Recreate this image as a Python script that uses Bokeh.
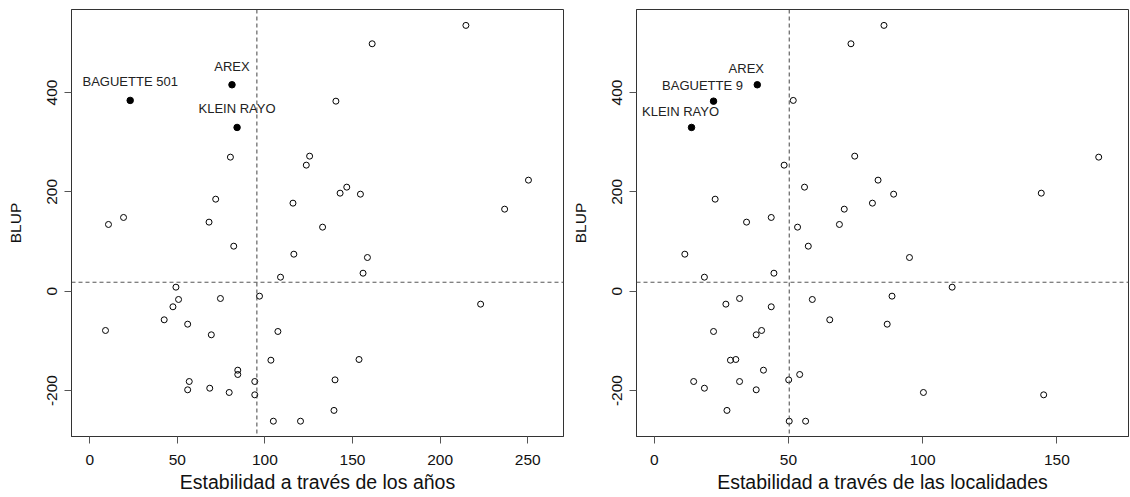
import math
from bokeh.plotting import figure
from bokeh.layouts import row
from bokeh.models import Range1d, Span, ColumnDataSource, FixedTicker
from bokeh.core.properties import value
from bokeh.embed import file_html
from bokeh.resources import INLINE

# ---------------- data ----------------
genotype = ["AREX", "KLEIN RAYO", "BAGUETTE 501", "BAGUETTE 9"] + [""] * 46

blup = [415.5, 329.6, 384.0, 382.5, 269.8, 271.8, 185.2, 148.4, 134.3, 139.0,
        90.6, 535.0, 498.0, 253.7, 209.4, 197.3, 195.3, 177.2, 223.5, 165.1,
        128.9, 28.2, 8.1, -16.7, -31.4, -14.7, -10.0, -57.6, -66.4, -79.1,
        -87.8, -81.1, -138.9, -159.0, -167.7, -181.8, -181.8, -198.5, -195.3, -203.9,
        -208.6, -261.7, 74.5, 67.8, 36.2, -26.1, -137.5, -178.5, -240.0, -261.7]

stab_years = [81.2, 84.1, 23.1, 140.5, 80.3, 125.5, 71.9, 19.3, 10.7, 68.1,
              82.2, 214.7, 161.2, 123.6, 146.7, 142.9, 154.5, 116.0, 250.4, 236.8,
              132.9, 108.9, 49.2, 50.7, 47.5, 74.6, 96.9, 42.5, 55.9, 9.0,
              69.4, 107.4, 103.4, 84.5, 84.5, 56.8, 94.2, 55.9, 68.5, 79.6,
              94.2, 104.8, 116.5, 158.5, 156.0, 223.1, 153.7, 140.0, 139.4, 120.3]

stab_locs = [38.4, 13.9, 51.8, 22.1, 165.6, 74.7, 22.7, 43.6, 69.0, 34.4,
             57.4, 85.6, 73.3, 48.4, 56.0, 144.2, 89.2, 81.3, 83.4, 70.8,
             53.4, 18.7, 111.0, 58.9, 43.6, 31.8, 88.6, 65.4, 86.8, 40.0,
             38.0, 22.1, 28.4, 40.7, 54.2, 14.7, 31.8, 38.0, 18.7, 100.3,
             145.1, 50.3, 11.4, 95.1, 44.6, 26.7, 30.4, 50.1, 27.1, 56.4]

highlight_years = ["AREX", "KLEIN RAYO", "BAGUETTE 501"]
highlight_locs = ["AREX", "KLEIN RAYO", "BAGUETTE 9"]

ref_years = 95.4
ref_locs = 50.3
ref_blup = 18.0

x_ticks_years = [0, 50, 100, 150, 200, 250]
x_ticks_locs = [0, 50, 100, 150]
y_ticks = [-200, 0, 200, 400]
y_tick_labels = {-200: "-200", 0: "0", 200: "200", 400: "400"}

FONT = "Liberation Sans"
FRAME = "#333333"


def panel(xvals, highlight, xrange, xticks, xtitle, ref_x, label_dx, label_dy):
    p = figure(width=565, height=497, output_backend="svg", toolbar_location=None,
               x_range=Range1d(*xrange), y_range=Range1d(-292.5, 567.0),
               min_border_left=71, min_border_right=2, min_border_top=9,
               min_border_bottom=61)
    p.xgrid.visible = False
    p.ygrid.visible = False
    p.outline_line_color = FRAME
    p.outline_line_width = 1
    p.background_fill_color = "white"
    p.border_fill_color = "white"

    for ax, ticks in ((p.xaxis[0], xticks), (p.yaxis[0], y_ticks)):
        ax.ticker = FixedTicker(ticks=ticks)
        ax.minor_tick_line_color = None
        ax.major_tick_in = 0
        ax.major_tick_out = 7
        ax.major_tick_line_color = "#555555"
        ax.axis_line_color = FRAME
        ax.major_label_text_font = FONT
        ax.major_label_text_font_size = "15.5px"
        ax.major_label_text_color = "#111111"
        ax.axis_label_text_font = FONT
        ax.axis_label_text_font_style = "normal"
        ax.axis_label_text_color = "#111111"

    p.xaxis[0].axis_label = xtitle
    p.xaxis[0].axis_label_text_font_size = "19.5px"
    p.xaxis[0].major_label_standoff = 11
    p.xaxis[0].axis_label_standoff = 3

    p.yaxis[0].axis_label = "BLUP"
    p.yaxis[0].axis_label_text_font_size = "15.5px"
    p.yaxis[0].major_label_orientation = "vertical"
    p.yaxis[0].major_label_overrides = y_tick_labels
    p.yaxis[0].major_label_standoff = 7
    p.yaxis[0].axis_label_standoff = 21

    p.add_layout(Span(location=ref_x, dimension="height", line_color="#444444",
                      line_width=1, line_dash="4 3"))
    p.add_layout(Span(location=ref_blup, dimension="width", line_color="#555555",
                      line_width=1, line_dash="4 3"))

    is_hl = [g in highlight and g != "" for g in genotype]
    open_src = ColumnDataSource(dict(
        x=[x for x, h in zip(xvals, is_hl) if not h],
        y=[y for y, h in zip(blup, is_hl) if not h]))
    hl_src = ColumnDataSource(dict(
        x=[x for x, h in zip(xvals, is_hl) if h],
        y=[y for y, h in zip(blup, is_hl) if h],
        name=[g for g, h in zip(genotype, is_hl) if h]))

    p.scatter("x", "y", source=open_src, marker="circle", size=6,
              fill_color=None, line_color="black", line_width=1)
    p.scatter("x", "y", source=hl_src, marker="circle", size=6.5,
              fill_color="black", line_color="black", line_width=1)
    p.text("x", "y", text="name", source=hl_src, text_font=value(FONT),
           text_font_size="13px", text_color="#222222", text_align="center",
           text_baseline="middle", x_offset=label_dx, y_offset=label_dy)
    return p


p1 = panel(stab_years, highlight_years, (-10.4, 270.4), x_ticks_years,
           "Estabilidad a través de los años", ref_years, 0, -18.5)
p2 = panel(stab_locs, highlight_locs, (-6.6, 176.7), x_ticks_locs,
           "Estabilidad a través de las localidades", ref_locs, -11, -16)

layout = row(p1, p2)
open("out.html", "w").write(file_html(layout, INLINE))
